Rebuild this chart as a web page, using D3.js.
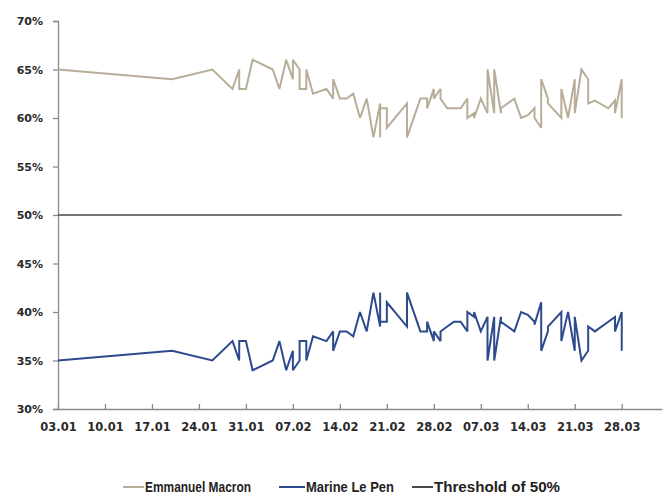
<!DOCTYPE html>
<html>
<head>
<meta charset="utf-8">
<script src="https://cdn.jsdelivr.net/npm/d3@7"></script>
<style>
  html, body { margin: 0; padding: 0; background: #fff; }
  svg { display: block; }
</style>
</head>
<body>
<svg id="chart" width="667" height="497"></svg>
<script>
// ---------- DATA ----------
const dates = [
  "2017-01-03","2017-01-20","2017-01-26","2017-01-29","2017-01-30","2017-01-30","2017-01-31","2017-02-01",
  "2017-02-04","2017-02-05","2017-02-06","2017-02-07","2017-02-07","2017-02-08","2017-02-08","2017-02-09",
  "2017-02-09","2017-02-10","2017-02-12","2017-02-13","2017-02-13","2017-02-14","2017-02-15","2017-02-16",
  "2017-02-17","2017-02-18","2017-02-19","2017-02-20","2017-02-20","2017-02-20","2017-02-21","2017-02-21",
  "2017-02-24","2017-02-24","2017-02-26","2017-02-27","2017-02-27","2017-02-28","2017-02-28","2017-03-01",
  "2017-03-01","2017-03-02","2017-03-03","2017-03-04","2017-03-05","2017-03-05","2017-03-06","2017-03-06",
  "2017-03-07","2017-03-08","2017-03-08","2017-03-09","2017-03-09","2017-03-10","2017-03-10","2017-03-12",
  "2017-03-13","2017-03-14","2017-03-15","2017-03-15","2017-03-16","2017-03-16","2017-03-17","2017-03-17",
  "2017-03-19","2017-03-19","2017-03-20","2017-03-21","2017-03-21","2017-03-22","2017-03-23","2017-03-23",
  "2017-03-24","2017-03-26","2017-03-27","2017-03-27","2017-03-28","2017-03-28"
];
const macron = [
  65,64,65,63,65,63,63,66,
  65,63,66,64,66,65,63,63,
  65,62.5,63,62,64,62,62,62.5,
  60,62,58,61.5,58,61,61,59,
  61.5,58,62,62,61,63,62,63,
  62,61,61,61,62,60,60.5,60,
  62,60.5,65,60.5,65,60.5,61,62,
  60,60.3,61,60,59,64,62,61.5,
  60,63,60,64,60.5,65,64,61.5,
  61.8,61,61.8,60.5,64,60
];
const lePen = [
  35,36,35,37,35,37,37,34,
  35,37,34,36,34,35,37,37,
  35,37.5,37,38,36,38,38,37.5,
  40,38,42,38.5,42,39,39,41,
  38.5,42,38,38,39,37,38,37,
  38,38.5,39,39,38,40,39.5,40,
  38,39.5,35,39.5,35,39.5,39,38,
  40,39.7,39,38.7,41,36,38,38.5,
  40,37,40,36,39.5,35,36,38.5,
  38,39,39.5,38,40,36
];
const thresholdValue = 50;
const yTicks = [30,35,40,45,50,55,60,65,70];
const xTickDates = ["2017-01-03","2017-01-10","2017-01-17","2017-01-24","2017-01-31","2017-02-07",
  "2017-02-14","2017-02-21","2017-02-28","2017-03-07","2017-03-14","2017-03-21","2017-03-28"];
const xDomain = ["2017-01-03","2017-04-03"];
const seriesNames = ["Emmanuel Macron","Marine Le Pen","Threshold of 50%"];
const seriesColors = ["#b8ad98","#2c4a8c","#4a4a4a"];

// ---------- CHART ----------
const parse = d3.timeParse("%Y-%m-%d");
const fmt = d3.timeFormat("%d.%m");
const svg = d3.select("#chart");

const x = d3.scaleTime().domain(xDomain.map(parse)).range([58, 662]);
const y = d3.scaleLinear().domain([30, 70]).range([409, 21]);

const axisColor = "#8a8a8a";
const labelFont = "DejaVu Sans, Verdana, sans-serif";

// Y axis
const yAxis = svg.append("g").attr("transform", "translate(58,0)")
  .call(d3.axisLeft(y).tickValues(yTicks).tickSize(5).tickPadding(10).tickFormat(d => d + "%"));
yAxis.select(".domain").attr("stroke", axisColor).attr("stroke-width", 1.3);
yAxis.selectAll(".tick line").attr("stroke", axisColor).attr("stroke-width", 1.3);
yAxis.selectAll(".tick text").attr("font-family", labelFont).attr("font-weight", "bold")
  .attr("font-size", "11px").attr("fill", "#2a2a2a");

// X axis
const xAxis = svg.append("g").attr("transform", "translate(0,409)")
  .call(d3.axisBottom(x).tickValues(xTickDates.map(parse)).tickSizeInner(-5).tickSizeOuter(0)
    .tickPadding(14).tickFormat(fmt));
xAxis.select(".domain").attr("stroke", axisColor).attr("stroke-width", 1.3);
xAxis.selectAll(".tick line").attr("stroke", axisColor).attr("stroke-width", 1.3);
xAxis.selectAll(".tick text").attr("font-family", labelFont).attr("font-weight", "bold")
  .attr("font-size", "11.5px").attr("fill", "#2a2a2a");

// Threshold line
const firstDate = parse(dates[0]), lastDate = parse(dates[dates.length - 1]);
svg.append("line")
  .attr("x1", x(firstDate)).attr("x2", x(lastDate))
  .attr("y1", y(thresholdValue)).attr("y2", y(thresholdValue))
  .attr("stroke", seriesColors[2]).attr("stroke-width", 1.5);

// Series lines
const line = d3.line().x(d => x(d.date)).y(d => y(d.value));
[macron, lePen].forEach((vals, i) => {
  const data = vals.map((v, j) => ({ date: parse(dates[j]), value: v }));
  svg.append("path").datum(data)
    .attr("fill", "none")
    .attr("stroke", seriesColors[i])
    .attr("stroke-width", 2)
    .attr("stroke-linejoin", "miter")
    .attr("stroke-miterlimit", 3)
    .attr("d", line);
});

// Legend
const legendItems = [
  { x: 123, w: 21, tw: 106 },
  { x: 279, w: 26, tw: 88 },
  { x: 412, w: 21, tw: 126 }
];
const legend = svg.append("g");
seriesNames.forEach((name, i) => {
  const it = legendItems[i];
  legend.append("line")
    .attr("x1", it.x).attr("x2", it.x + it.w)
    .attr("y1", 487).attr("y2", 487)
    .attr("stroke", seriesColors[i]).attr("stroke-width", 2);
  legend.append("text")
    .attr("x", it.x + it.w + 1).attr("y", 492)
    .attr("font-family", "Liberation Sans, Arial, sans-serif")
    .attr("font-weight", "bold")
    .attr("font-size", "15px")
    .attr("textLength", it.tw)
    .attr("lengthAdjust", "spacingAndGlyphs")
    .attr("fill", "#222")
    .text(name);
});
</script>
</body>
</html>
